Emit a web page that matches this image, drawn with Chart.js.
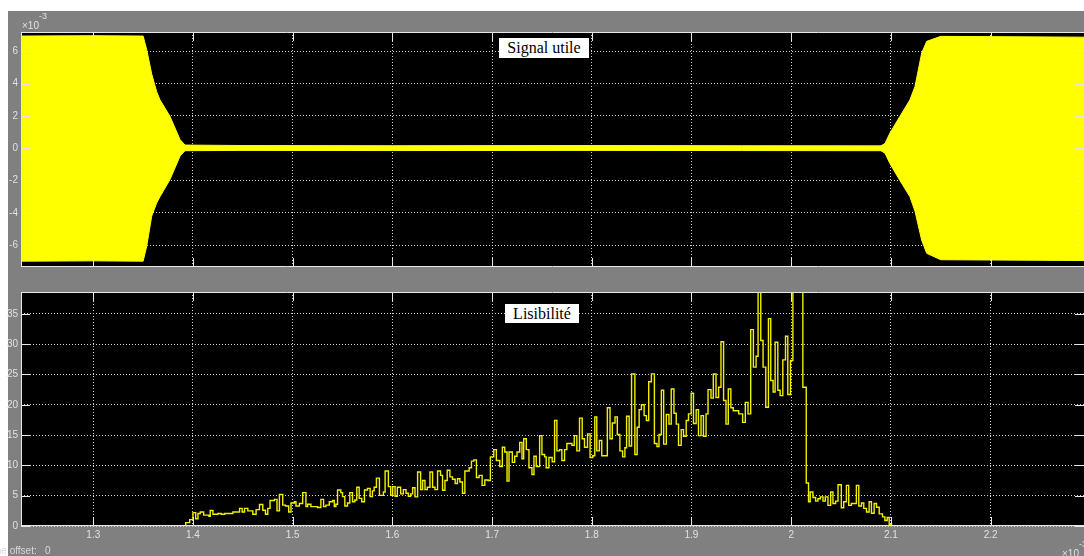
<!DOCTYPE html>
<html>
<head>
<meta charset="utf-8">
<script src="https://cdn.jsdelivr.net/npm/chart.js@4.4.1/dist/chart.umd.min.js"></script>
<style>
  html, body { margin: 0; padding: 0; background: #fff; overflow: hidden; }
  #page { position: relative; width: 1084px; height: 556px; overflow: hidden; }
  #fig { position: absolute; left: 8px; top: 11px; right: 0; bottom: 0; background: #808080; }
  canvas { position: absolute; left: 0; }
  .lbl { position: absolute; font-family: "Liberation Sans", Arial, sans-serif; color: #e0e0e0; font-size: 10px; white-space: nowrap; }
  .box { position: absolute; background: #fff; color: #000; font-family: "Liberation Serif", "Times New Roman", serif; font-size: 16px; text-align: center; line-height: 20px; }
</style>
</head>
<body>
<div id="page">
  <div id="fig"></div>
  <canvas id="top" width="1084" height="280" style="top:0"></canvas>
  <canvas id="bottom" width="1084" height="276" style="top:280px"></canvas>
  <div class="lbl" style="left:22px; top:20px;">×10</div>
  <div class="lbl" style="left:39px; top:11px; font-size:9px;">-3</div>
  <div class="lbl" style="left:1062px; top:548px;">×10</div>
  <div class="lbl" style="left:1079px; top:539px; font-size:9px;">-3</div>
  <div class="lbl" style="left:-15px; top:545px; color:#d8d8d8;">Time offset:&nbsp;&nbsp; 0</div>
  <div class="box" style="left:499px; top:38px; width:90px; height:20px;">Signal utile</div>
  <div class="box" style="left:505px; top:304px; width:74px; height:19px;">Lisibilité</div>
</div>
<script>
// time axis (x 10^-3)
const xMin = 1.2275;
const xMax = 2.2937;
const xTicks = [1.3, 1.4, 1.5, 1.6, 1.7, 1.8, 1.9, 2.0, 2.1, 2.2];

// "Signal utile" envelope (x 10^-3)
const envTime  = [1.2275, 1.30, 1.3500, 1.3536, 1.3586, 1.3636, 1.3669, 1.3769, 1.3870, 1.3920, 1.45, 1.60, 1.80, 1.95, 2.0900, 2.0941, 2.0991, 2.1091, 2.1191, 2.1242, 2.1309, 2.1359, 2.1500, 2.2937];
const envUpper = [6.95, 6.97, 6.95, 6.10, 4.60, 3.50, 3.00, 1.98, 0.54, 0.20, 0.17, 0.16, 0.17, 0.16, 0.15, 0.30, 0.95, 1.98, 3.00, 3.83, 5.90, 6.62, 6.93, 6.88];
const envLower = [-6.99, -6.97, -6.99, -6.06, -4.20, -3.38, -3.00, -1.94, -0.49, -0.15, -0.13, -0.14, -0.13, -0.14, -0.15, -0.30, -0.95, -2.00, -3.00, -3.90, -5.70, -6.50, -6.90, -6.95];
const topYTicks = [-6, -4, -2, 0, 2, 4, 6];

// "Lisibilité" steps
const lisTime = [1.2275, 1.3927, 1.3967, 1.4000, 1.4027, 1.4050, 1.4073, 1.4107, 1.4160, 1.4173, 1.4200, 1.4250, 1.4283, 1.4317, 1.4400, 1.4467, 1.4493, 1.4517, 1.4550, 1.4600,
  1.4633, 1.4667, 1.4700, 1.4727, 1.4750, 1.4773, 1.4817, 1.4843, 1.4867, 1.4900, 1.4927, 1.4960, 1.4983, 1.5017, 1.5033, 1.5067, 1.5100, 1.5133, 1.5150, 1.5183,
  1.5250, 1.5283, 1.5310, 1.5333, 1.5367, 1.5400, 1.5417, 1.5433, 1.5450, 1.5483, 1.5500, 1.5523, 1.5550, 1.5573, 1.5600, 1.5623, 1.5643, 1.5667, 1.5693, 1.5720,
  1.5750, 1.5777, 1.5800, 1.5817, 1.5840, 1.5870, 1.5910, 1.5927, 1.5960, 1.5983, 1.6003, 1.6027, 1.6050, 1.6083, 1.6110, 1.6137, 1.6160, 1.6183, 1.6203, 1.6227,
  1.6253, 1.6283, 1.6303, 1.6327, 1.6350, 1.6377, 1.6403, 1.6427, 1.6453, 1.6483, 1.6503, 1.6527, 1.6550, 1.6577, 1.6603, 1.6630, 1.6653, 1.6677, 1.6703, 1.6727,
  1.6770, 1.6793, 1.6817, 1.6843, 1.6870, 1.6900, 1.6927, 1.6960, 1.6983, 1.7017, 1.7043, 1.7077, 1.7103, 1.7127, 1.7150, 1.7170, 1.7203, 1.7227, 1.7250, 1.7277,
  1.7300, 1.7317, 1.7343, 1.7370, 1.7400, 1.7420, 1.7443, 1.7477, 1.7500, 1.7527, 1.7543, 1.7570, 1.7603, 1.7627, 1.7650, 1.7677, 1.7700, 1.7727, 1.7750, 1.7801,
  1.7824, 1.7850, 1.7877, 1.7904, 1.7927, 1.7957, 1.7983, 1.8010, 1.8030, 1.8050, 1.8076, 1.8100, 1.8156, 1.8183, 1.8206, 1.8233, 1.8256, 1.8282, 1.8309, 1.8332,
  1.8349, 1.8375, 1.8399, 1.8432, 1.8455, 1.8475, 1.8498, 1.8525, 1.8548, 1.8571, 1.8598, 1.8628, 1.8654, 1.8674, 1.8698, 1.8721, 1.8748, 1.8774, 1.8797, 1.8824,
  1.8847, 1.8870, 1.8897, 1.8920, 1.8947, 1.8970, 1.8997, 1.9020, 1.9047, 1.9070, 1.9096, 1.9120, 1.9146, 1.9166, 1.9196, 1.9219, 1.9246, 1.9272, 1.9296, 1.9322,
  1.9346, 1.9369, 1.9395, 1.9419, 1.9473, 1.9513, 1.9540, 1.9567, 1.9594, 1.9621, 1.9648, 1.9668, 1.9695, 1.9718, 1.9745, 1.9772, 1.9795, 1.9819, 1.9839, 1.9866,
  1.9889, 1.9916, 1.9943, 1.9966, 1.9993, 2.0017, 2.0117, 2.0151, 2.0174, 2.0191, 2.0218, 2.0245, 2.0268, 2.0292, 2.0319, 2.0342, 2.0369, 2.0396, 2.0419, 2.0446,
  2.0470, 2.0503, 2.0527, 2.0554, 2.0577, 2.0604, 2.0654, 2.0678, 2.0705, 2.0728, 2.0755, 2.0782, 2.0805, 2.0832, 2.0856, 2.0883, 2.0916, 2.0940, 2.0963, 2.0983,
  2.1007, 2.2937];
const lisValue = [0, 0.55, 1.05, 2.2, 1.2, 2.05, 2.3, 1.8, 1.6, 2.55, 1.95, 2.05, 1.95, 2.05, 2.3, 2.9, 2.3, 2.9, 2.5, 1.95,
  2.7, 3.55, 2.6, 1.95, 2.9, 4.2, 4.4, 2.5, 5.2, 3.45, 3.3, 2.3, 3.8, 4.0, 3.3, 3.7, 5.5, 3.2, 3.6, 3.2,
  3.05, 4.4, 3.2, 3.45, 4.0, 4.2, 3.2, 3.6, 5.95, 5.5, 4.85, 3.3, 3.8, 5.5, 4.0, 4.3, 6.4, 4.55, 4.0, 5.95,
  6.2, 4.85, 5.8, 6.4, 7.9, 5.05, 5.6, 9.07, 6.5, 5.05, 6.5, 4.9, 6.4, 5.3, 6.0, 5.4, 4.9, 5.3, 6.3, 4.8,
  8.9, 6.0, 7.5, 6.0, 6.4, 8.9, 6.4, 6.0, 9.07, 8.35, 5.9, 7.5, 9.2, 8.1, 7.7, 7.0, 7.8, 7.25, 5.4, 9.07,
  9.6, 10.7, 10.9, 8.0, 8.35, 6.7, 7.6, 7.5, 11.4, 12.6, 10.8, 9.8, 13.0, 12.2, 7.4, 12.2, 10.5, 11.5, 12.2, 13.8,
  11.1, 14.4, 12.6, 9.6, 8.5, 11.5, 9.8, 14.9, 11.8, 11.4, 9.6, 11.3, 10.6, 17.4, 12.4, 12.6, 10.8, 12.6, 13.6, 13.3,
  14.9, 12.4, 17.8, 14.4, 13.0, 15.2, 11.3, 11.6, 18.0, 12.4, 14.1, 11.6, 19.5, 14.4, 17.0, 18.0, 15.1, 12.4, 11.4, 12.9,
  18.1, 13.2, 25.1, 11.8, 16.3, 19.2, 20.0, 18.2, 17.4, 23.8, 25.1, 13.6, 13.1, 15.1, 22.4, 13.5, 18.4, 16.8, 22.6, 18.6,
  16.8, 13.3, 15.9, 14.8, 17.4, 18.5, 21.9, 16.9, 19.2, 14.9, 18.2, 14.8, 18.5, 22.5, 21.1, 25.1, 21.2, 22.9, 30.4, 20.7,
  16.8, 22.6, 19.5, 19.0, 18.5, 17.1, 20.4, 18.5, 32.4, 26.2, 28.0, 45, 30.6, 26.2, 19.6, 34.2, 24.0, 22.1, 30.3, 22.4,
  21.5, 27.4, 31.3, 21.7, 27.3, 45, 22.9, 7.1, 4.0, 5.6, 4.7, 4.1, 4.5, 4.8, 4.1, 4.8, 3.4, 5.6, 3.7, 4.1,
  6.8, 3.0, 4.0, 6.7, 3.4, 3.7, 6.7, 3.3, 3.8, 2.9, 2.3, 4.0, 2.1, 3.7, 3.1, 2.0, 1.5, 0.9, 1.4, 0.3,
  0, 0];
const bottomYTicks = [0, 5, 10, 15, 20, 25, 30, 35];

const yellow = '#ffff00';
const gridColor = '#cfcfcf';

// black plot area, white box edges and inward tick marks like the scope
const scopeFrame = {
  id: 'scopeFrame',
  beforeDraw(chart) {
    const a = chart.chartArea;
    const ctx = chart.ctx;
    ctx.save();
    ctx.fillStyle = '#000';
    ctx.fillRect(a.left, a.top, a.right - a.left, a.bottom - a.top);
    ctx.restore();
  },
  afterDraw(chart) {
    const a = chart.chartArea;
    const ctx = chart.ctx;
    const xs = chart.scales.x, ys = chart.scales.y;
    ctx.save();
    ctx.strokeStyle = '#e8e8e8';
    ctx.lineWidth = 1;
    ctx.beginPath();
    ctx.moveTo(a.left, a.top + 0.5); ctx.lineTo(a.right, a.top + 0.5);
    ctx.moveTo(a.left, a.bottom - 0.5); ctx.lineTo(a.right, a.bottom - 0.5);
    ctx.moveTo(a.left + 0.5, a.top); ctx.lineTo(a.left + 0.5, a.bottom);
    xs.ticks.forEach(t => {
      const px = Math.round(xs.getPixelForValue(t.value)) + 0.5;
      ctx.moveTo(px, a.top); ctx.lineTo(px, a.top + 9);
      ctx.moveTo(px, a.bottom); ctx.lineTo(px, a.bottom - 9);
    });
    ys.ticks.forEach(t => {
      const py = Math.round(ys.getPixelForValue(t.value)) + 0.5;
      ctx.moveTo(a.left, py); ctx.lineTo(a.left + 9, py);
      ctx.moveTo(a.right, py); ctx.lineTo(a.right - 9, py);
    });
    ctx.stroke();
    ctx.restore();
  }
};

function xScale(showLabels, height) {
  return {
    type: 'linear',
    min: xMin,
    max: xMax,
    afterBuildTicks: s => { s.ticks = xTicks.map(v => ({ value: v })); },
    afterFit: s => { s.height = height; },
    grid: { color: gridColor, drawTicks: false },
    border: { display: false, dash: [1, 2] },
    ticks: {
      display: showLabels,
      color: '#e0e0e0',
      padding: 3,
      maxRotation: 0,
      font: { family: 'Liberation Sans', size: 10 },
      callback: v => String(parseFloat(v.toFixed(1)))
    }
  };
}

function yScale(min, max, tickList) {
  return {
    type: 'linear',
    min: min,
    max: max,
    afterBuildTicks: s => { s.ticks = tickList.map(v => ({ value: v })); },
    afterFit: s => { s.width = 21; },
    grid: { color: gridColor, drawTicks: false },
    border: { display: false, dash: [1, 2] },
    ticks: {
      color: '#e0e0e0',
      padding: 3,
      font: { family: 'Liberation Sans', size: 10 },
      callback: v => String(v)
    }
  };
}

Chart.defaults.devicePixelRatio = 1;

new Chart(document.getElementById('top'), {
  type: 'line',
  data: {
    datasets: [{
      data: envTime.map((t, i) => ({ x: t, y: envUpper[i] })),
      borderColor: yellow,
      backgroundColor: yellow,
      borderWidth: 1,
      pointRadius: 0,
      fill: '+1'
    }, {
      data: envTime.map((t, i) => ({ x: t, y: envLower[i] })),
      borderColor: yellow,
      backgroundColor: yellow,
      borderWidth: 1,
      pointRadius: 0,
      fill: false
    }]
  },
  options: {
    responsive: false,
    animation: false,
    layout: { padding: { top: 32, left: 0, right: 0, bottom: 0 } },
    plugins: { legend: { display: false }, tooltip: { enabled: false } },
    scales: {
      x: xScale(false, 13),
      y: yScale(-7.35, 7.2, topYTicks)
    }
  },
  plugins: [scopeFrame]
});

new Chart(document.getElementById('bottom'), {
  type: 'line',
  data: {
    datasets: [{
      data: lisTime.map((t, i) => ({ x: t, y: lisValue[i] })),
      borderColor: '#f0f000',
      borderWidth: 1.4,
      pointRadius: 0,
      stepped: true,
      fill: false
    }]
  },
  options: {
    responsive: false,
    animation: false,
    layout: { padding: { top: 12, left: 0, right: 0, bottom: 0 } },
    plugins: { legend: { display: false }, tooltip: { enabled: false } },
    scales: {
      x: xScale(true, 30),
      y: yScale(0, 38.6, bottomYTicks)
    }
  },
  plugins: [scopeFrame]
});
</script>
</body>
</html>
